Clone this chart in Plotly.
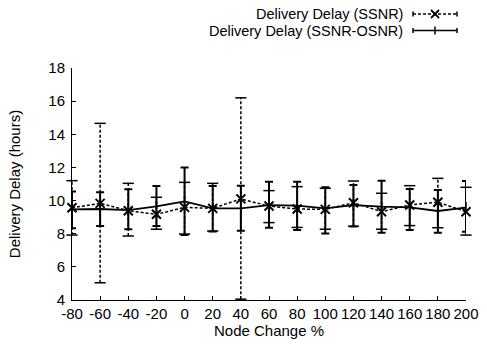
import plotly.graph_objects as go

node_change = [-80, -60, -40, -20, 0, 20, 40, 60, 80, 100, 120, 140, 160, 180, 200]

ssnr_mean = [9.57, 9.83, 9.39, 9.17, 9.59, 9.53, 10.1, 9.67, 9.49, 9.47, 9.87, 9.33, 9.73, 9.9, 9.33]
ssnr_high = [11.2, 14.66, 11.04, 10.2, 11.1, 11.04, 16.2, 10.6, 10.84, 10.74, 11.18, 10.44, 10.9, 11.34, 10.8]
ssnr_low = [7.92, 5.04, 7.86, 8.27, 7.98, 8.16, 4.05, 8.67, 8.38, 8.27, 8.45, 8.27, 8.49, 8.36, 7.92]

osnr_mean = [9.47, 9.49, 9.42, 9.65, 9.95, 9.53, 9.53, 9.73, 9.69, 9.53, 9.73, 9.63, 9.59, 9.37, 9.57]
osnr_high = [10.54, 10.5, 10.68, 10.88, 12.0, 10.88, 10.9, 11.14, 11.14, 10.8, 10.94, 11.2, 10.7, 10.64, 11.18]
osnr_low = [8.33, 8.47, 8.27, 8.47, 7.92, 8.14, 8.18, 8.36, 8.22, 8.02, 8.43, 8.06, 8.22, 8.06, 8.12]

legend_names = ["Delivery Delay (SSNR)", "Delivery Delay (SSNR-OSNR)"]
x_ticks = list(range(-80, 201, 20))
y_ticks = list(range(4, 19, 2))

FONT = "Liberation Sans, Arial, Helvetica, sans-serif"
FS = 15
LFS = 14.5
fig = go.Figure()

# SSNR dashed error bars
ex, ey = [], []
for x, lo, hi in zip(node_change, ssnr_low, ssnr_high):
    ex += [x, x, None]
    ey += [lo, hi, None]
fig.add_trace(go.Scatter(x=ex, y=ey, mode="lines", line=dict(color="black", width=1.5, dash="3px,2px"),
                         showlegend=False, hoverinfo="skip", cliponaxis=False))
fig.add_trace(go.Scatter(x=node_change + node_change, y=ssnr_low + ssnr_high, mode="markers",
                         marker=dict(symbol="line-ew", size=8, line=dict(color="black", width=1.5)),
                         showlegend=False, hoverinfo="skip", cliponaxis=False))

# SSNR-OSNR solid with error bars
fig.add_trace(go.Scatter(
    x=node_change, y=osnr_mean, mode="lines+markers", name=legend_names[1],
    line=dict(color="black", width=1.8),
    marker=dict(symbol="line-ns", size=8, line=dict(color="black", width=1.5)),
    error_y=dict(type="data", symmetric=False,
                 array=[h - m for h, m in zip(osnr_high, osnr_mean)],
                 arrayminus=[m - l for m, l in zip(osnr_mean, osnr_low)],
                 color="black", thickness=2, width=4),
    showlegend=False, cliponaxis=False))

# SSNR dashed line with X markers
fig.add_trace(go.Scatter(
    x=node_change, y=ssnr_mean, mode="lines+markers", name=legend_names[0],
    line=dict(color="black", width=1.5, dash="3px,2px"),
    marker=dict(symbol="x-thin", size=9, line=dict(color="black", width=2)),
    showlegend=False, cliponaxis=False))

W, H = 487, 345
L, R, T, B = 72, 21, 68, 45
pw, ph = W - L - R, H - T - B
def px(xp):
    return (xp - L) / pw
def py(yp):
    return (H - B - yp) / ph

shapes = []
rows = [(14, "3px,2px", "x"), (30.5, "solid", "+")]
for (yy, dash, sym), name in zip(rows, legend_names):
    shapes.append(dict(type="line", xref="paper", yref="paper", x0=px(413), x1=px(457), y0=py(yy), y1=py(yy),
                       line=dict(color="black", width=1.5, dash=dash)))
    for xe in (413, 457):
        shapes.append(dict(type="line", xref="paper", yref="paper", x0=px(xe), x1=px(xe),
                           y0=py(yy - 2.5), y1=py(yy + 2.5), line=dict(color="black", width=1.5)))
    if sym == "x":
        shapes.append(dict(type="line", xref="paper", yref="paper", x0=px(431), x1=px(439),
                           y0=py(yy - 4), y1=py(yy + 4), line=dict(color="black", width=1.8)))
        shapes.append(dict(type="line", xref="paper", yref="paper", x0=px(431), x1=px(439),
                           y0=py(yy + 4), y1=py(yy - 4), line=dict(color="black", width=1.8)))
    else:
        shapes.append(dict(type="line", xref="paper", yref="paper", x0=px(435), x1=px(435),
                           y0=py(yy - 4), y1=py(yy + 4), line=dict(color="black", width=1.5)))

annotations = []
for (yy, _, _), name in zip(rows, legend_names):
    annotations.append(dict(text=name, xref="paper", yref="paper", x=px(404), y=py(yy),
                            xanchor="right", yanchor="middle", showarrow=False, borderpad=0,
                            font=dict(family=FONT, size=LFS, color="black")))

fig.update_layout(
    width=W, height=H,
    margin=dict(l=L, r=R, t=T, b=B, autoexpand=False),
    paper_bgcolor="white", plot_bgcolor="white",
    font=dict(family=FONT, size=FS, color="black"),
    shapes=shapes, annotations=annotations,
    showlegend=False,
    xaxis=dict(range=[-80, 200], tickvals=x_ticks, ticktext=[str(v) for v in x_ticks],
               showline=True, linecolor="black", linewidth=1, ticks="inside", ticklen=4,
               tickcolor="black", showgrid=False, zeroline=False, automargin=False,
               title=dict(text="Node Change %", standoff=4, font=dict(size=FS))),
    yaxis=dict(range=[4, 18], tickvals=y_ticks, ticktext=[str(v) for v in y_ticks],
               showline=True, linecolor="black", linewidth=1, ticks="inside", ticklen=4,
               tickcolor="black", showgrid=False, zeroline=False, ticklabelstandoff=3, automargin=False,
               title=dict(text="Delivery Delay (hours)", standoff=24, font=dict(size=FS))),
)

fig.write_html("out.html", config={"displayModeBar": False},
               post_script="document.body.style.margin='0';")
